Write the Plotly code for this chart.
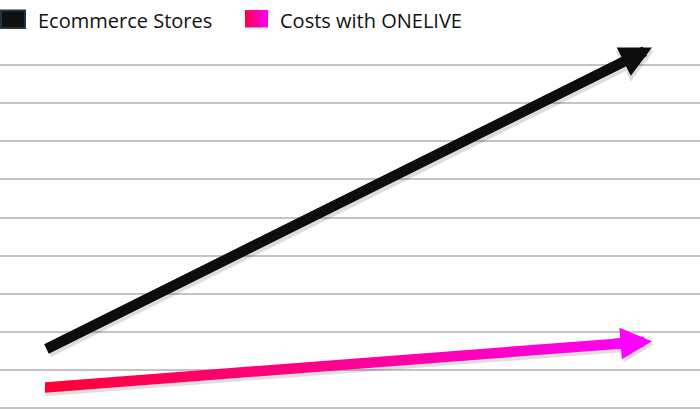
import plotly.graph_objects as go

# ---- data ----
period = [0, 1]                      # start / end of the comparison
ecommerce_stores = [1.53, 9.46]      # rising cost line
costs_onelive = [0.54, 1.755]        # cost with ONELIVE
grid_levels = [0, 1, 2, 3, 4, 5, 6, 7, 8, 9]
series_names = ["Ecommerce Stores", "Costs with ONELIVE"]

# ---- style ----
W, H = 700, 410
PX_X = 607.0          # pixels per x unit
PX_Y = 38.1           # pixels per y unit
X0_PX = 45.0
Y0_PX = 408.0
BLACK = "#0d0d0d"
PINK_START = "#ff0036"
PINK_END = "#ff00f2"
MAGENTA = "#ff00ff"
LINE_W = 10.5
HEAD_SIZE = 0.6
SHADOW = "rgba(0,0,0,0.13)"
FONT = "Open Sans"

x_range = [-X0_PX / PX_X, (W - X0_PX) / PX_X]
y_range = [(Y0_PX - H) / PX_Y, Y0_PX / PX_Y]

hw = (LINE_W / 2) / PX_Y
trim = 24 / PX_X
slope = (costs_onelive[1] - costs_onelive[0]) / (period[1] - period[0])
x_fill_end = period[1] - trim
y_fill_end = costs_onelive[0] + slope * (x_fill_end - period[0])
fill_x = [period[0], x_fill_end]
fill_mid = [costs_onelive[0], y_fill_end]

fig = go.Figure()

# shadow under pink bar
fig.add_trace(go.Scatter(
    x=fill_x, y=[v - 3 / PX_Y for v in fill_mid], mode="lines",
    line=dict(color=SHADOW, width=LINE_W + 1), hoverinfo="skip", showlegend=False,
    xaxis="x", yaxis="y"))

# pink gradient bar
fig.add_trace(go.Scatter(
    x=fill_x, y=[v - hw for v in fill_mid], mode="lines",
    line=dict(width=0, color=PINK_START), hoverinfo="skip", showlegend=False))
fig.add_trace(go.Scatter(
    x=fill_x, y=[v + hw for v in fill_mid], mode="lines",
    line=dict(width=0, color=PINK_END), fill="tonexty",
    fillgradient=dict(type="horizontal",
                      colorscale=[[0, PINK_START], [0.5, "#ff0090"], [1, PINK_END]]),
    name=series_names[1], hoverinfo="skip", showlegend=False))

# legend gradient swatch (overlay pixel axes)
fig.add_trace(go.Scatter(
    x=[245, 268, 268, 245, 245], y=[10, 10, 27.5, 27.5, 10], mode="lines",
    line=dict(width=0, color=MAGENTA), fill="toself",
    fillgradient=dict(type="horizontal", colorscale=[[0, "#ff0040"], [1, MAGENTA]]),
    xaxis="x2", yaxis="y2", hoverinfo="skip", showlegend=False))

# pixel offset of pink tail for the head
tail_px = 40
dy_px = slope * PX_Y / PX_X * tail_px

annotations = [
    # black arrow shadow
    dict(x=period[1], y=ecommerce_stores[1], ax=period[0], ay=ecommerce_stores[0],
         xref="x", yref="y", axref="x", ayref="y", text="", showarrow=True,
         arrowhead=2, arrowsize=HEAD_SIZE, arrowwidth=LINE_W + 1, arrowcolor=SHADOW,
         xshift=2, yshift=-3),
    # black arrow
    dict(x=period[1], y=ecommerce_stores[1], ax=period[0], ay=ecommerce_stores[0],
         xref="x", yref="y", axref="x", ayref="y", text="", showarrow=True,
         arrowhead=2, arrowsize=HEAD_SIZE, arrowwidth=LINE_W, arrowcolor=BLACK),
    # pink head shadow
    dict(x=period[1], y=costs_onelive[1], ax=-34, ay=dy_px * 34 / tail_px,
         xref="x", yref="y", text="", showarrow=True,
         arrowhead=2, arrowsize=HEAD_SIZE, arrowwidth=LINE_W, arrowcolor=SHADOW,
         xshift=2, yshift=-3),
    # pink head
    dict(x=period[1], y=costs_onelive[1], ax=-tail_px, ay=dy_px,
         xref="x", yref="y", text="", showarrow=True,
         arrowhead=2, arrowsize=HEAD_SIZE, arrowwidth=LINE_W, arrowcolor=MAGENTA),
    # legend texts
    dict(x=36 / W, y=1 - 20 / H, xref="paper", yref="paper", text=series_names[0],
         showarrow=False, xanchor="left", yanchor="middle",
         font=dict(family=FONT, size=20, color="#111111")),
    dict(x=278 / W, y=1 - 20 / H, xref="paper", yref="paper", text=series_names[1],
         showarrow=False, xanchor="left", yanchor="middle",
         font=dict(family=FONT, size=20, color="#111111")),
]

shapes = [
    dict(type="rect", xref="paper", yref="paper",
         x0=1 / W, x1=25 / W, y0=1 - 28 / H, y1=1 - 10.5 / H,
         fillcolor="#111111", line=dict(color="#1f3545", width=2)),
]

fig.update_layout(
    width=W, height=H,
    margin=dict(l=0, r=0, t=0, b=0),
    paper_bgcolor="white", plot_bgcolor="white",
    showlegend=False,
    xaxis=dict(range=x_range, showgrid=False, zeroline=False, showticklabels=False,
               showline=False, fixedrange=True),
    yaxis=dict(range=y_range, tickvals=grid_levels, showgrid=True, gridcolor="#c4c4c4",
               gridwidth=2, zeroline=False, showticklabels=False, showline=False,
               ticks="", fixedrange=True),
    xaxis2=dict(range=[0, W], overlaying="x", visible=False, fixedrange=True),
    yaxis2=dict(range=[H, 0], overlaying="y", visible=False, fixedrange=True),
    annotations=annotations,
    shapes=shapes,
)

fig.write_html(
    "out.html",
    config={"displayModeBar": False},
    post_script="document.body.style.margin='0';document.body.style.overflow='hidden';",
)
